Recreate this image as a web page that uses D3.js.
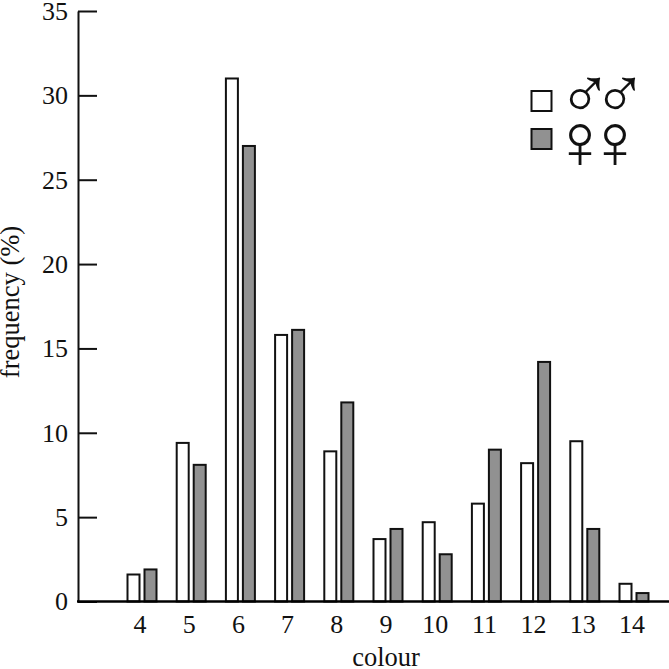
<!DOCTYPE html>
<html>
<head>
<meta charset="utf-8">
<script src="https://cdn.jsdelivr.net/npm/d3@7"></script>
<style>
html, body { margin: 0; padding: 0; background: #fff; }
svg { display: block; font-family: "Liberation Serif", serif; }
</style>
</head>
<body>
<div id="chart"></div>
<script>
// colour classes and frequency (%) per sex
var colours = [4, 5, 6, 7, 8, 9, 10, 11, 12, 13, 14];
var males = [1.6, 9.4, 31, 15.8, 8.9, 3.7, 4.7, 5.8, 8.2, 9.5, 1.05];
var females = [1.9, 8.1, 27, 16.1, 11.8, 4.3, 2.8, 9.0, 14.2, 4.3, 0.5];
var yTicks = [0, 5, 10, 15, 20, 25, 30, 35];

var width = 669, height = 669;
var grey = "#919191";

var svg = d3.select("#chart").append("svg")
    .attr("width", width)
    .attr("height", height);

var x = d3.scaleLinear().domain([4, 14]).range([141.5, 633.5]);
var y = d3.scaleLinear().domain([0, 35]).range([601.5, 11]);

var barW = 12;

// bars, white = males, grey = females
function bars(values, fill, offset) {
    svg.append("g")
        .selectAll("rect")
        .data(values)
        .join("rect")
        .attr("x", (d, i) => x(colours[i]) + offset)
        .attr("y", d => y(d))
        .attr("width", barW)
        .attr("height", d => y(0) - y(d))
        .attr("fill", fill)
        .attr("stroke", "#111")
        .attr("stroke-width", 2);
}
bars(males, "#fff", -14);
bars(females, grey, 3);

// y axis, ticks point inwards
var yAxis = svg.append("g")
    .attr("transform", "translate(78,0)")
    .call(d3.axisLeft(y).tickValues(yTicks).tickSizeInner(-19).tickSizeOuter(0).tickPadding(10));
yAxis.selectAll("text").attr("font-size", 26).attr("font-family", "Liberation Serif").attr("fill", "#111");
yAxis.selectAll("line").attr("stroke", "#111").attr("stroke-width", 2);
yAxis.select(".domain").attr("stroke", "#111").attr("stroke-width", 2);

// x axis
var xAxis = svg.append("g")
    .attr("transform", "translate(0," + y(0) + ")");
xAxis.append("line")
    .attr("x1", 77).attr("x2", width)
    .attr("stroke", "#000").attr("stroke-width", 2.4);
xAxis.selectAll("text")
    .data(colours)
    .join("text")
    .attr("x", d => x(d) - 1.5)
    .attr("y", 31)
    .attr("text-anchor", "middle")
    .attr("font-size", 26)
    .attr("fill", "#111")
    .text(d => d);

svg.append("text")
    .attr("x", 386).attr("y", 666)
    .attr("text-anchor", "middle")
    .attr("font-size", 26.5)
    .attr("fill", "#111")
    .text("colour");

svg.append("text")
    .attr("transform", "translate(19,302) rotate(-90)")
    .attr("text-anchor", "middle")
    .attr("font-size", 26.5)
    .attr("fill", "#111")
    .text("frequency (%)");

// legend
var legend = svg.append("g").style("text-rendering", "geometricPrecision");
[[91, "#fff", "♂♂", 585, 27, 72], [129, grey, "♀♀", 580, 39, 78]].forEach(function (row) {
    legend.append("rect")
        .attr("x", 531.5).attr("y", row[0])
        .attr("width", 20).attr("height", 20)
        .attr("fill", row[1])
        .attr("stroke", "#111")
        .attr("stroke-width", 2);
    legend.selectAll(null)
        .data(row[2].split(""))
        .join("text")
        .attr("x", (d, i) => row[3] + i * 35)
        .attr("y", row[0] + row[4])
        .attr("text-anchor", "middle")
        .attr("font-size", row[5])
        .attr("fill", "#111")
        .text(d => d);
});
</script>
</body>
</html>
